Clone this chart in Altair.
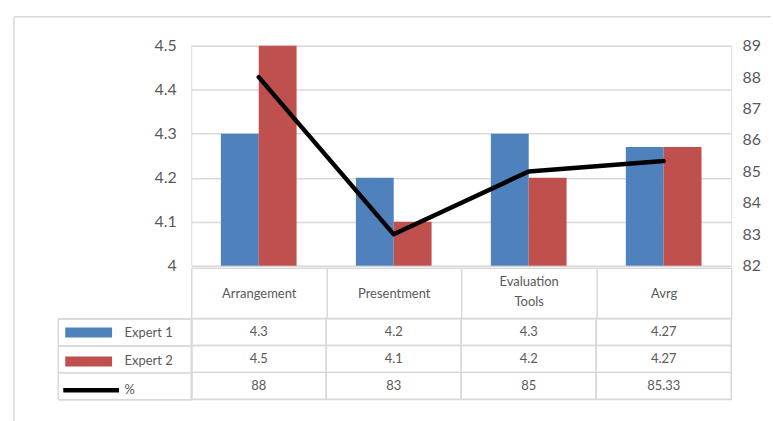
import altair as alt
import pandas as pd

# ---- data ----
categories = ["Arrangement", "Presentment", "Evaluation Tools", "Avrg"]
series_names = ["Expert 1", "Expert 2", "%"]
expert1 = [4.3, 4.2, 4.3, 4.27]
expert2 = [4.5, 4.1, 4.2, 4.27]
percent = [88, 83, 85, 85.33]
left_ticks = [4.0, 4.1, 4.2, 4.3, 4.4, 4.5]
right_ticks = [82, 83, 84, 85, 86, 87, 88, 89]

# ---- styles ----
BLUE = "#4f81bd"
RED = "#c0504d"
BLACK = "#000000"
GRID = "#d9d9d9"
TEXT = "#595959"
FONT = "Lato"
W = 542
H_TOP = 221
H_TAB = 81

bars_df = pd.DataFrame({
    "category": categories * 2,
    "series": ["Expert 1"] * len(categories) + ["Expert 2"] * len(categories),
    "value": expert1 + expert2,
})
line_df = pd.DataFrame({"category": categories, "pct": percent})
table_df = pd.DataFrame({
    "category": categories * 3,
    "series": [s for s in series_names for _ in categories],
    "value": expert1 + expert2 + percent,
})
frame_df = pd.DataFrame({"k": [0]})

x_top = alt.X(
    "category:N", sort=categories,
    scale=alt.Scale(domain=categories, paddingInner=0, paddingOuter=0),
    axis=alt.Axis(
        title=None, offset=2, domain=True, domainColor=GRID, domainWidth=1.5,
        ticks=True, tickColor=GRID, tickWidth=1.5, tickSize=51, tickBand="extent",
        labelAngle=0, labelBaseline="middle", labelAlign="center",
        labelPadding={"condition": {"test": "datum.value == 'Evaluation Tools'", "value": -37},
                      "value": -25},
        labelFontSize=13, labelColor=TEXT, labelFont=FONT, labelLimit=0,
        labelOverlap=False, labelLineHeight=20,
        labelExpr="datum.value == 'Evaluation Tools' ? ['Evaluation', 'Tools'] : datum.label",
    ),
)

bars = alt.Chart(bars_df).mark_bar().encode(
    x=x_top,
    xOffset=alt.XOffset("series:N", scale=alt.Scale(domain=["Expert 1", "Expert 2"],
                                                    paddingInner=0, paddingOuter=0.783)),
    y=alt.Y("value:Q", scale=alt.Scale(domain=[4, 4.5], nice=False, zero=False),
            axis=alt.Axis(title=None, orient="left", values=left_ticks, format="~g", grid=True,
                          gridColor=GRID, gridWidth=1.5, domain=False, ticks=False,
                          labelPadding=15, labelFontSize=16, labelColor=TEXT, labelFont=FONT)),
    y2=alt.datum(4),
    color=alt.Color("series:N", scale=alt.Scale(domain=["Expert 1", "Expert 2"], range=[BLUE, RED]),
                    legend=None),
)

line = alt.Chart(line_df).mark_line(color=BLACK, strokeWidth=4.5, strokeCap="round",
                                    strokeJoin="round").encode(
    x=x_top,
    y=alt.Y("pct:Q", scale=alt.Scale(domain=[82, 89], nice=False, zero=False),
            axis=alt.Axis(title=None, orient="right", values=right_ticks, format="d",
                          grid=False, domain=False, ticks=False, labelPadding=11,
                          labelFontSize=16, labelColor=TEXT, labelFont=FONT)),
)

frame_top = alt.Chart(frame_df).mark_rule(color=GRID, strokeWidth=1.5).encode(
    x=alt.value(-178), x2=alt.value(582), y=alt.value(-29))
frame_left = alt.Chart(frame_df).mark_rule(color=GRID, strokeWidth=1.5).encode(
    x=alt.value(-178), y=alt.value(-29), y2=alt.value(377))

top = alt.layer(frame_top, frame_left, bars, line).resolve_scale(y="independent").properties(
    width=W, height=H_TOP)

# ---- data table ----
x_tab = alt.X("category:N", sort=categories,
              scale=alt.Scale(domain=categories, paddingInner=0, paddingOuter=0), axis=None)
y_tab = alt.Y("series:N", sort=series_names,
              scale=alt.Scale(domain=series_names, paddingInner=0, paddingOuter=0),
              axis=alt.Axis(title=None, orient="left", labels=False, ticks=True,
                            tickBand="extent", tickSize=134, tickColor=GRID, tickWidth=1.5,
                            domain=True, domainColor=GRID, domainWidth=1.5, grid=False))

cells = alt.Chart(table_df).mark_rect(fill="transparent", stroke=GRID, strokeWidth=1.5).encode(
    x=x_tab, y=y_tab)
texts = alt.Chart(table_df).mark_text(fontSize=13, color=TEXT, font=FONT).encode(
    x=x_tab, y=y_tab, text=alt.Text("value:Q", format="~g"))

RECT = "M-4.7,-1H4.7V1H-4.7Z"
LINE = "M-5.1,-0.45H6.1V0.45H-5.1Z"
leg = alt.Legend(orient="none", legendX=-109.5, legendY=7.5, title=None, padding=0,
                 rowPadding=15, labelFontSize=13, labelColor=TEXT, labelFont=FONT,
                 labelOffset=29.5, symbolSize=100, symbolStrokeWidth=0, symbolOpacity=1,
                 direction="vertical")
keys = alt.Chart(table_df).transform_filter("false").mark_point(filled=True, opacity=1).encode(
    y=alt.Y("series:N", sort=series_names,
            scale=alt.Scale(domain=series_names, paddingInner=0, paddingOuter=0),
            axis=alt.Axis(title=None, orient="left", offset=134, labels=False, ticks=False,
                          domain=True, domainColor=GRID, domainWidth=1.5, grid=False)),
    color=alt.Color("series:N", scale=alt.Scale(domain=series_names, range=[BLUE, RED, BLACK]),
                    legend=leg),
    shape=alt.Shape("series:N", scale=alt.Scale(domain=series_names, range=[RECT, RECT, LINE]),
                    legend=leg),
)

table = alt.layer(cells, texts, keys).resolve_scale(y="independent").properties(
    width=W, height=H_TAB)

chart = alt.vconcat(top, table, spacing=53, bounds="flush").resolve_scale(
    x="independent", y="independent", color="independent", shape="independent",
    xOffset="independent"
).properties(
    padding={"left": 12, "top": 14, "right": 0, "bottom": 0}
).configure_view(stroke="transparent").configure(background="white")

chart.save("out.html", embed_options={"renderer": "svg", "actions": False})
